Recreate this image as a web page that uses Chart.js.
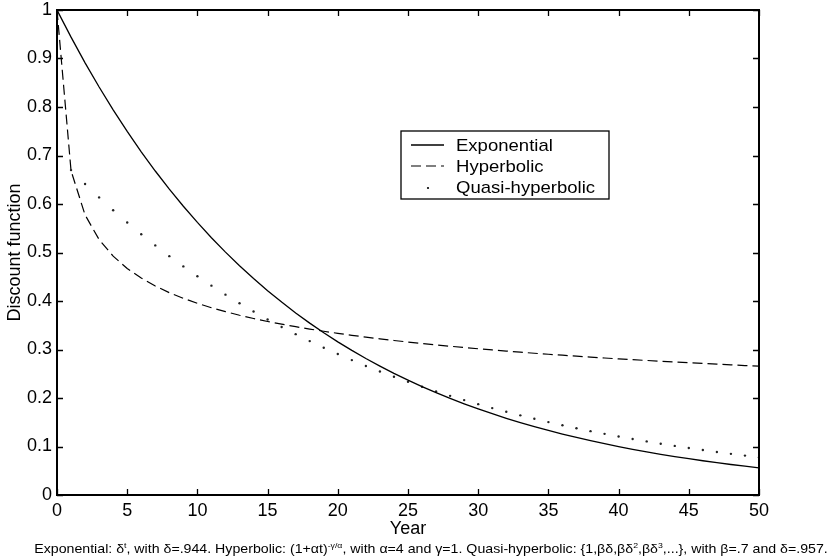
<!DOCTYPE html>
<html>
<head>
<meta charset="utf-8">
<script src="https://cdn.jsdelivr.net/npm/chart.js@4/dist/chart.umd.min.js"></script>
<style>
  html, body { margin: 0; padding: 0; background: #fff; }
  #wrap { position: relative; width: 834px; height: 560px; }
  #caption {
    position: absolute; left: 0; width: 862px; top: 541px;
    text-align: center; white-space: nowrap; color: #000;
    font: 13px "Liberation Sans", Arial, sans-serif;
    transform: scaleX(1.09);
  }
  #caption sup { font-size: 8px; vertical-align: 5px; line-height: 0; }
</style>
</head>
<body>
<div id="wrap">
  <canvas id="discount" width="834" height="560"></canvas>
  <div id="caption">Exponential: &delta;<sup>t</sup>, with &delta;=.944. Hyperbolic: (1+&alpha;t)<sup>-&gamma;/&alpha;</sup>, with &alpha;=4 and &gamma;=1. Quasi-hyperbolic: {1,&beta;&delta;,&beta;&delta;<sup>2</sup>,&beta;&delta;<sup>3</sup>,...}, with &beta;=.7 and &delta;=.957.</div>
</div>
<script>
/* years 0..50 */
const years = [0, 1, 2, 3, 4, 5, 6, 7, 8, 9, 10, 11, 12, 13, 14, 15, 16, 17, 18, 19, 20,
  21, 22, 23, 24, 25, 26, 27, 28, 29, 30, 31, 32, 33, 34, 35, 36, 37, 38, 39, 40,
  41, 42, 43, 44, 45, 46, 47, 48, 49, 50];

const exponential = [1, 0.944, 0.8911, 0.8412, 0.7941, 0.7497, 0.7077, 0.6680, 0.6306, 0.5953, 0.5620,
  0.5305, 0.5008, 0.4728, 0.4463, 0.4213, 0.3977, 0.3754, 0.3544, 0.3346, 0.3158,
  0.2981, 0.2814, 0.2657, 0.2508, 0.2368, 0.2235, 0.2110, 0.1992, 0.1880, 0.1775,
  0.1676, 0.1582, 0.1493, 0.1410, 0.1331, 0.1256, 0.1186, 0.1120, 0.1057, 0.0998,
  0.0942, 0.0889, 0.0839, 0.0792, 0.0748, 0.0706, 0.0667, 0.0629, 0.0594, 0.0561];

const hyperbolic = [1, 0.6687, 0.5774, 0.5266, 0.4925, 0.4671, 0.4472, 0.4309, 0.4172, 0.4055, 0.3952,
  0.3861, 0.3780, 0.3706, 0.3639, 0.3578, 0.3522, 0.3470, 0.3421, 0.3376, 0.3333,
  0.3293, 0.3256, 0.3220, 0.3186, 0.3154, 0.3124, 0.3095, 0.3067, 0.3041, 0.3015,
  0.2991, 0.2967, 0.2945, 0.2923, 0.2902, 0.2882, 0.2862, 0.2843, 0.2825, 0.2807,
  0.2790, 0.2774, 0.2757, 0.2742, 0.2726, 0.2712, 0.2697, 0.2683, 0.2669, 0.2656];

const quasiHyperbolic = [1, 0.6699, 0.6411, 0.6136, 0.5872, 0.5619, 0.5377, 0.5146, 0.4925, 0.4713, 0.4510,
  0.4316, 0.4131, 0.3953, 0.3783, 0.3620, 0.3465, 0.3316, 0.3173, 0.3037, 0.2906,
  0.2781, 0.2661, 0.2547, 0.2437, 0.2333, 0.2232, 0.2136, 0.2044, 0.1957, 0.1873,
  0.1792, 0.1715, 0.1642, 0.1571, 0.1503, 0.1439, 0.1376, 0.1317, 0.1261, 0.1206,
  0.1154, 0.1105, 0.1058, 0.1012, 0.0968, 0.0927, 0.0887, 0.0848, 0.0812, 0.0777];

const xTickLabels = ['0', '5', '10', '15', '20', '25', '30', '35', '40', '45', '50'];
const yTickLabels = ['0', '0.1', '0.2', '0.3', '0.4', '0.5', '0.6', '0.7', '0.8', '0.9', '1'];

const pts = vals => years.map((t, i) => ({ x: t, y: vals[i] }));

const FONT = '"Liberation Sans", Arial, sans-serif';
Chart.defaults.font.family = FONT;
Chart.defaults.color = '#000';

// box around the plot with inward ticks on all four sides, plus the legend
const framePlugin = {
  id: 'frame',
  afterDatasetsDraw(chart) {
    const { ctx, chartArea: a, scales: { x, y } } = chart;
    const tl = 6;
    ctx.save();
    ctx.strokeStyle = '#000';
    ctx.lineWidth = 1.3;
    ctx.beginPath();
    x.ticks.forEach(t => {
      const px = Math.round(x.getPixelForValue(t.value)) + 0.5;
      ctx.moveTo(px, a.bottom); ctx.lineTo(px, a.bottom - tl);
      ctx.moveTo(px, a.top); ctx.lineTo(px, a.top + tl);
    });
    y.ticks.forEach(t => {
      const py = Math.round(y.getPixelForValue(t.value)) + 0.5;
      ctx.moveTo(a.left, py); ctx.lineTo(a.left + tl, py);
      ctx.moveTo(a.right, py); ctx.lineTo(a.right - tl, py);
    });
    ctx.stroke();
    ctx.lineWidth = 2;
    ctx.strokeRect(a.left, a.top, a.right - a.left, a.bottom - a.top);

    // legend
    const bx = a.left + 344, by = a.top + 121, bw = 208, bh = 68;
    ctx.fillStyle = '#fff';
    ctx.fillRect(bx, by, bw, bh);
    ctx.lineWidth = 1.3;
    ctx.strokeRect(bx, by, bw, bh);
    ctx.font = '17px ' + FONT;
    ctx.textBaseline = 'middle';
    ctx.fillStyle = '#000';
    chart.data.datasets.forEach((ds, i) => {
      const ry = by + 14 + i * 21;
      if (ds.showLine === false) {
        ctx.beginPath();
        ctx.arc(bx + 27, ry + 1, 1.1, 0, Math.PI * 2);
        ctx.fill();
      } else {
        ctx.beginPath();
        ctx.setLineDash(ds.borderDash || []);
        ctx.lineWidth = ds.borderWidth;
        ctx.moveTo(bx + 10, ry); ctx.lineTo(bx + 43, ry);
        ctx.stroke();
        ctx.setLineDash([]);
      }
      ctx.save();
      ctx.translate(bx + 55, ry + 1);
      ctx.scale(1.09, 1);
      ctx.fillText(ds.label, 0, 0);
      ctx.restore();
    });
    ctx.restore();
  }
};

new Chart(document.getElementById('discount'), {
  type: 'line',
  data: {
    datasets: [{
      label: 'Exponential',
      data: pts(exponential),
      borderColor: '#000',
      borderWidth: 1.3,
      pointRadius: 0,
      tension: 0
    }, {
      label: 'Hyperbolic',
      data: pts(hyperbolic),
      borderColor: '#000',
      borderWidth: 1.2,
      borderDash: [10, 5],
      pointRadius: 0,
      tension: 0
    }, {
      label: 'Quasi-hyperbolic',
      data: pts(quasiHyperbolic),
      showLine: false,
      pointRadius: 1.2,
      pointBorderWidth: 0,
      pointBackgroundColor: '#222',
      borderColor: '#222'
    }]
  },
  options: {
    responsive: false,
    animation: false,
    layout: { padding: { top: 10, right: 75, bottom: 20, left: 0 } },
    plugins: { legend: { display: false }, tooltip: { enabled: false } },
    scales: {
      x: {
        type: 'linear',
        min: 0, max: 50,
        afterFit: s => { s.height = 45; s.paddingLeft = 0; s.paddingRight = 0; },
        grid: { display: false, drawTicks: false },
        border: { display: false },
        ticks: {
          stepSize: 5, padding: 5, maxRotation: 0,
          font: { size: 18 },
          callback: (v, i) => xTickLabels[i]
        },
        title: { display: true, text: 'Year', font: { size: 18 }, padding: 0 }
      },
      y: {
        min: 0, max: 1,
        afterFit: s => { s.width = 57; s.paddingTop = 0; s.paddingBottom = 0; },
        grid: { display: false, drawTicks: false },
        border: { display: false },
        ticks: {
          stepSize: 0.1, padding: 5,
          font: { size: 18 },
          callback: (v, i) => yTickLabels[i]
        },
        title: { display: true, text: 'Discount function', font: { size: 18 }, padding: { top: 4, bottom: 0 } }
      }
    }
  },
  plugins: [framePlugin]
});
</script>
</body>
</html>
